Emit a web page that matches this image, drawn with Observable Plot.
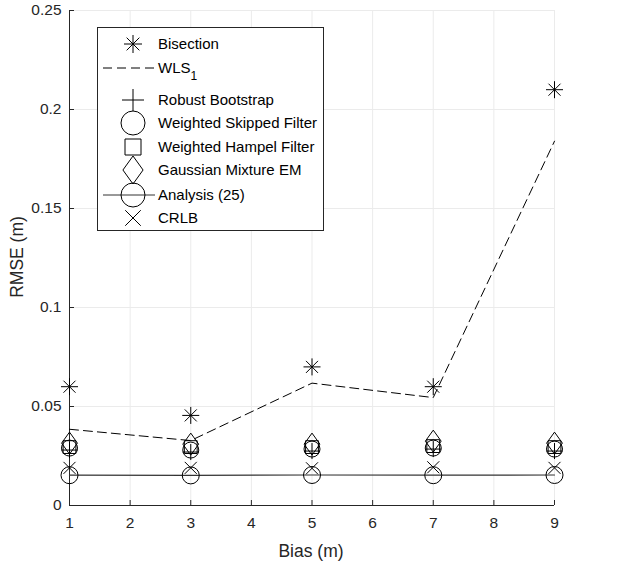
<!DOCTYPE html>
<html>
<head>
<meta charset="utf-8">
<script src="https://cdn.jsdelivr.net/npm/d3@7"></script>
<script src="https://cdn.jsdelivr.net/npm/@observablehq/plot@0.6"></script>
<style>
  html, body { margin: 0; padding: 0; background: #fff; }
  #chart { width: 639px; height: 568px; }
  svg { font-family: "Liberation Sans", Arial, sans-serif; }
</style>
</head>
<body>
<div id="chart"></div>
<script>
// ---- data ----
const bias = [1, 3, 5, 7, 9];
const bisection = [0.0600, 0.0455, 0.0700, 0.0600, 0.2100];
const wls1 = [0.0385, 0.0328, 0.0618, 0.0545, 0.1840];
const robustBootstrap = [0.0280, 0.0270, 0.0275, 0.0285, 0.0275];
const weightedSkipped = [0.0290, 0.0280, 0.0285, 0.0290, 0.0285];
const weightedHampel = [0.0295, 0.0295, 0.0295, 0.0300, 0.0295];
const gaussianMixture = [0.0315, 0.0310, 0.0310, 0.0325, 0.0315];
const analysis25 = [0.0153, 0.0152, 0.0154, 0.0153, 0.0154];
const crlb = [0.0190, 0.0190, 0.0188, 0.0193, 0.0190];
const seriesNames = ["Bisection", "WLS", "Robust Bootstrap", "Weighted Skipped Filter",
  "Weighted Hampel Filter", "Gaussian Mixture EM", "Analysis (25)", "CRLB"];
const xTicks = [1, 2, 3, 4, 5, 6, 7, 8, 9];
const yTicks = [0, 0.05, 0.1, 0.15, 0.2, 0.25];
const yTickLabels = ["0", "0.05", "0.1", "0.15", "0.2", "0.25"];

// ---- symbols (MATLAB-like markers) ----
const R = s => Math.sqrt(s / Math.PI);
const symAsterisk = {draw(c, s) { const r = R(s), d = r * 0.7071;
  c.moveTo(0, -r); c.lineTo(0, r); c.moveTo(-r, 0); c.lineTo(r, 0);
  c.moveTo(-d, -d); c.lineTo(d, d); c.moveTo(-d, d); c.lineTo(d, -d); }};
const symPlus = {draw(c, s) { const r = R(s);
  c.moveTo(0, -r); c.lineTo(0, r); c.moveTo(-r, 0); c.lineTo(r, 0); }};
const symCircle = {draw(c, s) { const r = R(s);
  c.moveTo(r, 0); c.arc(0, 0, r, 0, 2 * Math.PI); c.closePath(); }};
const symSquare = {draw(c, s) { const h = R(s) * 0.8; c.rect(-h, -h, 2 * h, 2 * h); }};
const symDiamond = {draw(c, s) { const r = R(s), w = r * 0.72;
  c.moveTo(0, -r); c.lineTo(w, 0); c.lineTo(0, r); c.lineTo(-w, 0); c.closePath(); }};
const symTimes = {draw(c, s) { const d = R(s) * 0.7071;
  c.moveTo(-d, -d); c.lineTo(d, d); c.moveTo(-d, d); c.lineTo(d, -d); }};

const rows = (vals, name) => bias.map((b, i) => ({bias: b, value: vals[i], series: name}));
const dataBis = rows(bisection, seriesNames[0]);
const dataWls = rows(wls1, seriesNames[1]);
const dataRB = rows(robustBootstrap, seriesNames[2]);
const dataWSF = rows(weightedSkipped, seriesNames[3]);
const dataWHF = rows(weightedHampel, seriesNames[4]);
const dataGMM = rows(gaussianMixture, seriesNames[5]);
const dataAn = rows(analysis25, seriesNames[6]);
const dataCR = rows(crlb, seriesNames[7]);

const ink = "#000";
const axisInk = "#262626";
const dot = (data, symbol, r) => Plot.dot(data, {x: "bias", y: "value", symbol, r,
  fill: "none", stroke: ink, strokeWidth: 1});

const chart = Plot.plot({
  width: 639,
  height: 568,
  marginLeft: 69,
  marginRight: 85,
  marginTop: 10,
  marginBottom: 63,
  style: {fontFamily: "'Liberation Sans', Arial, sans-serif", background: "#fff"},
  x: {domain: [1, 9]},
  y: {domain: [0, 0.25]},
  marks: [
    Plot.gridX(xTicks, {stroke: "#ebebeb", strokeOpacity: 1}),
    Plot.gridY(yTicks, {stroke: "#ebebeb", strokeOpacity: 1}),
    Plot.ruleY([0], {stroke: axisInk}),
    Plot.ruleX([1], {stroke: axisInk}),
    Plot.axisX(xTicks, {tickSize: -5, tickPadding: 16, stroke: axisInk, fill: "#262626",
      fontSize: 15.5, tickFormat: d => String(d), label: null}),
    Plot.axisY(yTicks, {tickSize: -5, tickPadding: 13, stroke: axisInk, fill: "#262626",
      fontSize: 15.5, tickFormat: (d, i) => yTickLabels[i], label: null}),
    Plot.line(dataWls, {x: "bias", y: "value", stroke: ink, strokeWidth: 1, strokeDasharray: "9,5"}),
    Plot.line(dataAn, {x: "bias", y: "value", stroke: "#333", strokeWidth: 1.2}),
    dot(dataBis, symAsterisk, 8.5),
    dot(dataRB, symPlus, 8),
    dot(dataWSF, symCircle, 8),
    dot(dataWHF, symSquare, 8),
    dot(dataGMM, symDiamond, 11),
    dot(dataAn, symCircle, 8.5),
    dot(dataCR, symTimes, 8.5)
  ]
});

const svg = d3.select(chart);
// axis titles
svg.append("text").attr("x", 311).attr("y", 557).attr("text-anchor", "middle")
  .attr("font-size", 17.5).attr("fill", "#262626").text("Bias (m)");
svg.append("text").attr("transform", "translate(23,257) rotate(-90)").attr("text-anchor", "middle")
  .attr("font-size", 17.5).attr("fill", "#262626").text("RMSE (m)");

// legend
const lg = svg.append("g").attr("class", "legend").attr("text-anchor", "start");
lg.append("rect").attr("x", 97.5).attr("y", 27.5).attr("width", 226).attr("height", 203)
  .attr("fill", "#fff").attr("stroke", "#262626").attr("stroke-width", 1);
const legendItems = [
  {label: seriesNames[0], sym: symAsterisk, r: 9},
  {label: "WLS", sub: "1", dash: true},
  {label: seriesNames[2], sym: symPlus, r: 11},
  {label: seriesNames[3], sym: symCircle, r: 12},
  {label: seriesNames[4], sym: symSquare, r: 10},
  {label: seriesNames[5], sym: symDiamond, r: 14},
  {label: seriesNames[6], sym: symCircle, r: 12, line: true},
  {label: seriesNames[7], sym: symTimes, r: 11}
];
const rowY = [44, 68, 100, 123, 147, 170, 195, 218];
legendItems.forEach((it, i) => {
  const y = rowY[i];
  if (it.dash || it.line) {
    lg.append("line").attr("x1", 103).attr("x2", 155).attr("y1", y).attr("y2", y)
      .attr("stroke", it.line ? "#333" : ink).attr("stroke-width", 1)
      .attr("stroke-dasharray", it.dash ? "9,5" : null);
  }
  if (it.sym) {
    const p = d3.path();
    it.sym.draw(p, Math.PI * it.r * it.r);
    lg.append("path").attr("transform", `translate(133,${y})`).attr("d", p.toString())
      .attr("fill", "none").attr("stroke", ink).attr("stroke-width", 1);
  }
  const t = lg.append("text").attr("x", 158).attr("y", y).attr("dy", "0.35em")
    .attr("text-anchor", "start").attr("font-size", 15).attr("fill", "#000").text(it.label);
  if (it.sub) t.append("tspan").attr("font-size", 12).attr("dy", "7").attr("fill", "#000").text(it.sub);
});

document.getElementById("chart").appendChild(chart);
</script>
</body>
</html>
